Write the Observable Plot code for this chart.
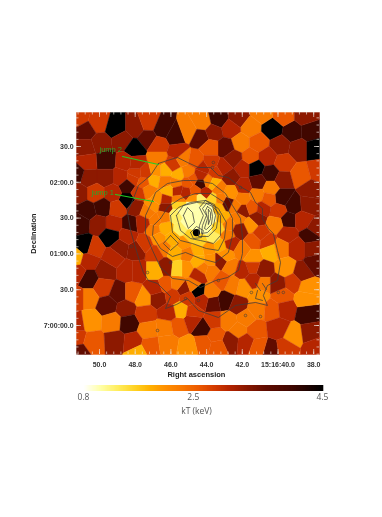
<!DOCTYPE html>
<html>
<head>
<meta charset="utf-8">
<script src="https://cdn.jsdelivr.net/npm/d3@7"></script>
<script src="https://cdn.jsdelivr.net/npm/@observablehq/plot@0.6"></script>
<style>
html,body{margin:0;padding:0;background:#fff}
svg{display:block}
#chart svg{filter:blur(0.35px)}
</style>
</head>
<body>
<div id="chart"></div>
<script>
// Temperature map cells: right ascension (s), declination (arcsec above 7:00:00), kT (keV)
const nwRA=[51.18,50.06,50.78,49.10,47.98,47.26,46.47,45.74,50.78,49.94,48.71,47.31,48.04,46.70,49.66,50.67,48.54,48.82,49.66,50.62,51.29,48.10,48.43,48.43,49.27,50.22,51.18,49.83,50.67,48.99,48.26,49.22,50.06,51.06];
const nwDec=[174,170,163,166,166,170,165,159,149,153,155,157,148,151,138,137,137,124,124,124,127,123,105,117,111,111,111,99,96,98,85,85,85,86];
const nwKT=[2.85,2.85,3.6,4.5,3.3,2.85,4,4,3.3,3.3,3.3,3.6,4.5,2.85,4,3.05,3.05,3.05,3.3,3.3,4,2.85,4.5,4,3.05,2.85,3.3,4,4,2.85,4,3.05,3.3,4];

const ncRA=[46.70,46.30,45.58,45.02,45.91,45.35,44.62,44.18,44.34,46.98,47.54,47.98,47.42,47.98,46.86,46.30,45.74,45.07,46.14,47.26,47.82,45.63,45.18,46.75,46.30,44.62,44.06,45.58,44.74,47.98,46.98,46.30,47.31,46.86,45.02,44.23,45.63,43.90,44.79,44.34,42.38,41.94];
const ncDec=[140,130,126,128,135,140,138,132,119,122,120,127,128,136,130,120,119,120,113,113,111,113,111,106,105,113,111,105,106,99,101,99,95,88,163,170,145,121,123,126,100,132];
const ncKT=[2.3,1.85,1.85,2.3,2.85,2.3,2.6,3.05,4,1.85,2.6,2.85,2.85,3.05,2.05,2.3,2.3,2.6,1.85,2.3,2.85,3.05,3.05,2.05,3.05,2.6,3.05,2.3,2.05,3.3,2.05,3.3,2.3,2.3,2.3,2.3,3.05,2.3,2.6,3.05,2.3,3.05];

const coreRA=[44.74,45.30,44.80,44.34,45.07,44.62,44.06,43.90,43.78,44.34,43.67,45.58,45.74,45.46,44.90,44.34,43.62,43.34,43.11,43.34,42.83,42.78,42.83,43.22,43.90,44.51,45.30,45.91,46.30,46.42,46.98,46.75,46.42,45.74,45.07,46.86,44.46,43.78,43.22,42.66,46.30,45.18,44.18];
const coreDec=[101,96,92,90,86,84,82,98,90,106,106,102,92,81,75,71,74,82,90,99,103,85,75,67,65,63,69,73,82,91,80,73,65,61,60,61,54,54,54,49,49,48,48];
const coreKT=[1.05,1.05,1.05,1.05,1.05,1.05,1.05,1.05,1.05,1.3,1.6,1.6,1.3,1.3,1.6,1.6,1.3,1.6,1.85,1.85,3.6,2.3,2.3,1.85,2.05,1.85,2.05,1.85,1.85,2.3,2.3,2.05,2.3,1.85,2.3,2.85,1.85,2.05,3.3,2.3,3.3,2.05,2.3];

const neRA=[44.34,43.34,42.22,41.54,42.66,43.62,40.31,39.19,38.18,39.70,38.46,40.87,42.10,42.94,41.10,39.86,38.86,37.90,43.78,41.54,40.59,42.50,39.70,38.74,41.26,40.42,43.06,43.78,39.75,37.74,41.10,42.66,43.50,40.42,41.94,42.66,43.34,43.62,41.99,41.15,39.75,39.14,40.54,39.98,43.22,41.99,41.43,40.87,41.15,41.54,39.42,40.14,42.22,42.10,40.98,39.47,38.18,38.30,38.63,37.90,38.18];
const neDec=[158,173,174,166,165,162,165,162,163,176,176,178,153,149,153,151,148,148,149,141,141,140,136,126,132,127,132,136,122,130,120,124,128,115,116,111,115,119,106,109,107,101,106,96,106,96,99,98,90,84,88,85,90,80,77,77,113,102,88,81,75];
const neKT=[3.6,4,3.3,2.3,3.05,3.3,4.5,4,4,2.6,3.3,2.3,2.3,3.6,2.6,3.3,3.3,4.5,2.6,2.6,3.05,3.3,2.85,2.6,4.5,4,3.05,2.85,3.3,2.85,3.6,3.3,2.85,2.3,3.05,2.05,2.3,1.85,2.3,2.3,4,4,2.6,2.85,2.3,3.3,2.6,3.05,3.3,2.05,4,2.3,2.3,3.3,2.85,3.05,3.3,3.3,3.05,3.3,4];

const seRA=[41.38,40.59,42.66,42.94,41.99,41.43,40.42,39.86,38.91,38.07,39.58,38.63,37.90,38.35,39.19,40.82,41.43,41.99,41.94,42.55,41.10,40.82,41.38,39.75,40.03,42.94,43.67,42.27,41.15,40.31,39.58,38.35,39.14,38.18,37.90,40.42,39.58,41.26,42.22,42.66,41.82,41.10,43.50,44.23,43.62,42.78,41.82,39.98,38.46,44.46,44.18,43.39];
const seDec=[71,70,69,59,63,57,63,65,65,65,48,44,52,32,36,46,49,46,32,34,25,35,38,25,35,21,19,17,14,13,14,10,-8,-6,-18,-21,-19,-4,-4,-13,-14,-18,-8,-2,4,4,6,-2,23,29,-15,-18];
const seKT=[2.6,2.85,3.05,2.05,2.3,2.05,1.85,2.3,3.05,3.3,2.05,3.3,3.6,2.05,2.85,3.3,2.85,3.05,2.05,2.3,2.05,2.3,3.05,2.6,3.3,4,3.6,3.3,2.3,2.6,3.05,4,2.05,3.3,3.05,3.6,2.85,2.6,2.3,3.3,3.05,2.6,2.6,4,2.85,2.3,2.3,3.05,2.05,4.5,2.6,2.6];

const swRA=[50.78,49.38,50.34,48.82,47.98,48.43,51.34,50.62,49.66,49.22,50.62,49.78,51.23,48.43,48.94,48.15,47.54,46.70,50.62,49.55,48.54,51.23,50.50,49.27,48.38,47.42,47.26,46.30,45.58,44.79,51.34,50.34,49.10,48.15,47.14,46.19,45.02,51.34,47.87,51.18,46.86,45.30,46.30,45.63,45.91,45.07,44.23,43.78,44.74,45.46,46.14,44.74,47.87,46.86,45.58,44.46,43.78,43.11,47.42,47.59];
const swDec=[67,75,65,65,63,75,57,54,46,57,39,32,44,46,27,27,23,23,23,17,14,23,4,3,2,10,-4,-2,0,4,-10,-14,-13,-14,-17,-15,-18,2,-23,-23,31,31,34,35,25,23,21,28,34,13,11,11,46,46,48,42,46,38,69,86];
const swKT=[4.5,4.5,2.85,3.3,3.3,3.05,1.85,3.05,3.3,3.05,4,2.85,3.05,3.05,3.6,2.6,2.05,3.3,2.3,3.6,3.3,2.85,2.05,2.3,4,2.85,2.3,2.3,2.6,3.05,2.85,2.6,3.3,3.05,2.6,2.3,2.05,3.05,1.85,3.6,3.05,3.3,2.6,2.3,2.85,2.85,3.05,2.3,2.3,1.85,3.05,2.85,3.05,1.85,1.6,3.05,2.3,2.6,2.85,3.05];

const sitesRA=[...nwRA,...ncRA,...coreRA,...neRA,...seRA,...swRA];
const sitesDec=[...nwDec,...ncDec,...coreDec,...neDec,...seDec,...swDec];
const sitesKT=[...nwKT,...ncKT,...coreKT,...neKT,...seKT,...swKT];

// Contours
const c1RA=[46.70,46.19,45.63,45.07,44.46,43.78,43.34,42.78,42.22,41.54,41.26,40.87,40.87,40.54,40.26,40.03,39.86,40.03,40.59,40.82,40.59,41.26,42.38,43.34,44.46,45.07,45.69,46.30,46.02,46.75,47.26,47.54,47.82,48.26,48.43,48.10,47.82,47.14,46.70];
const c1Dec=[135.8,138.3,140.8,136.6,132.4,132.4,125.7,124,117.3,111.5,103.1,98,89.7,81.3,77.1,62.9,52.8,37.7,33.5,25.1,16.8,19.3,16.8,6.7,12.6,22.6,17.6,14.2,24.3,35.2,37.7,44.4,57,79.6,94.7,106.4,117.3,125.7,135.8];
const c2RA=[47.03,47.42,47.42,47.03,46.58,45.91,45.02,44.34,43.50,42.83,42.22,41.99,41.99,42.10,42.55,42.94,43.67,44.62,45.30,46.19,46.86,47.03];
const c2Dec=[104.8,92.2,77.1,62.9,48.6,39.4,37.7,31.8,37.7,40.2,46.1,60.3,73.7,89.7,100.6,110.6,119,121.5,121.5,119,111.5,104.8];
const c3RA=[46.58,46.14,45.46,44.62,43.78,43.00,42.55,42.55,42.78,43.50,44.34,45.18,45.91,46.58,47.03,46.98,46.58];
const c3Dec=[89.7,99.7,106.4,110.6,110.6,103.1,89.7,75.4,61.2,52.8,56.1,61.2,57.8,64.5,75.4,83.8,89.7];
const c4RA=[46.02,45.58,44.90,44.06,43.34,42.89,43.00,43.34,44.01,44.79,45.46,45.91,46.02];
const c4Dec=[92.2,98.9,103.1,104.8,98,86.3,72.9,62.9,64.5,68.7,71.2,77.9,92.2];
const c5RA=[45.69,45.30,44.57,43.78,43.22,43.22,43.62,44.34,44.90,45.46,45.58,45.69];
const c5Dec=[92.2,100.6,103.1,102.2,92.2,75.4,68.7,71.2,72.9,79.6,86.3,92.2];
const c6RA=[45.30,45.07,44.79,44.68,45.02,45.30];
const c6Dec=[92.2,98.9,94.7,86.3,81.3,92.2];
const c7RA=[46.02,46.42,46.02,45.58,46.02];
const c7Dec=[75.4,68.7,62.9,68.7,75.4];
const l1RA=[44.06,43.56,43.34,43.45,43.90,44.46,44.40,44.18,44.40,44.06];
const l1Dec=[104.8,101.4,92.2,81.3,74.6,74.6,83.8,92.2,98.9,104.8];
const l2RA=[44.01,43.67,43.50,43.62,43.95,44.29,44.23,44.01,44.23,44.01];
const l2Dec=[102.2,99.7,92.2,83,77.9,77.1,83.8,92.2,98,102.2];
const l3RA=[43.95,43.73,43.67,43.73,44.01,44.12,43.95,44.06,43.95];
const l3Dec=[99.7,97.2,91.3,84.6,80.4,81.3,89.7,96.4,99.7];
const l4RA=[43.90,43.78,43.78,43.90,43.90,43.90];
const l4Dec=[97.2,94.7,89.7,84.6,93,97.2];
const ringRA=[44.90,44.57,44.18,44.29,44.74,44.90];
const ringDec=[77.9,83,79.6,73.7,72.9,77.9];
const f1RA=[41.26,40.98];
const f1Dec=[35.2,29.3];
const f2RA=[40.87,40.65];
const f2Dec=[35.2,30.2];
const f3RA=[41.15,41.26,40.87];
const f3Dec=[29.3,22.6,21];
const contourRA=[c1RA,c2RA,c3RA,c4RA,c5RA,c6RA,c7RA,l1RA,l2RA,l3RA,l4RA,ringRA,f1RA,f2RA,f3RA];
const contourDec=[c1Dec,c2Dec,c3Dec,c4Dec,c5Dec,c6Dec,c7Dec,l1Dec,l2Dec,l3Dec,l4Dec,ringDec,f1Dec,f2Dec,f3Dec];
const contourRows=contourRA.flatMap((a,k)=>a.map((ra,i)=>({k,ra,dec:contourDec[k][i]})));

const loopRA=[46.75,48.21,43.62,43.67,42.10,41.49,39.98,39.70,41.82,40.98,43.34,47.31,46.02,45.18,44.46];
const loopDec=[-4.2,66.2,136.6,132.4,115.6,27.7,27.7,27.7,8.4,7.5,37.7,44.4,52.8,22.6,21];

// Core point source
const coreSourceRA=[44.57];
const coreSourceDec=[77.9];
const coreSourceKT=[4.5];

// Annotations
const jumpNames=["jump 2","jump 1"];
const jumpLabelRA=[50.0,50.45];
const jumpLabelDec=[147.5,111.5];
const jumpLine2RA=[48.71,46.70];
const jumpLine2Dec=[141.6,134.9];
const jumpLine1RA=[49.10,46.98];
const jumpLine1Dec=[109.8,103.9];

// Axes
const raTicks=[50,48,46,44,42,40,38];
const raLabels=["50.0","48.0","46.0","44.0","42.0","15:16:40.0","38.0"];
const decTicks=[150,120,90,60,30,0];
const decLabels=["30.0","02:00.0","30.0","01:00.0","30.0","7:00:00.0"];
const raMinor=d3.range(38,51.2,0.4);
const decMinor=d3.range(-24,178,6);

// Colour
const colorFractions=[0,0.07,0.14,0.22,0.28,0.34,0.41,0.48,0.55,0.61,0.68,0.76,0.87,1];
const colorStops=["#ffffff","#ffffa8","#ffee60","#ffd020","#ffb000","#ff9000","#f87800","#ec5a00","#d23a00","#b42400","#8a1800","#600c00","#400700","#000000"];
const ramp=d3.scaleLinear().domain(colorFractions).range(colorStops).interpolate(d3.interpolateRgb);
const color={type:"linear",domain:[0.8,4.5],interpolate:t=>ramp(t)};

const xDom=[51.288,37.675], yDom=[-24.3,178.5];
const tickColor="#e8e0d8";
const axisFont="Liberation Sans";

function edgeTicksX(vals,len){return [
  Plot.ruleX(vals,{x:d=>d,y1:yDom[1],y2:yDom[1]-len*0.838,stroke:tickColor,strokeWidth:0.7}),
  Plot.ruleX(vals,{x:d=>d,y1:yDom[0],y2:yDom[0]+len*0.838,stroke:tickColor,strokeWidth:0.7})
];}
function edgeTicksY(vals,len){return [
  Plot.ruleY(vals,{y:d=>d,x1:xDom[0],x2:xDom[0]-len*0.056,stroke:tickColor,strokeWidth:0.7}),
  Plot.ruleY(vals,{y:d=>d,x1:xDom[1],x2:xDom[1]+len*0.056,stroke:tickColor,strokeWidth:0.7})
];}

const chart=Plot.plot({
  width:382,height:380,
  marginLeft:76,marginRight:63,marginTop:112,marginBottom:26,
  style:{background:"transparent",fontFamily:axisFont,overflow:"visible"},
  x:{domain:xDom,axis:null},y:{domain:yDom,axis:null},color,
  marks:[
    Plot.voronoi(sitesKT,{x:sitesRA,y:sitesDec,fill:sitesKT,stroke:sitesKT,strokeWidth:0.4}),
    Plot.dot(coreSourceKT,{x:coreSourceRA,y:coreSourceDec,r:3.6,fill:coreSourceKT}),
    Plot.line(contourRows,{x:"ra",y:"dec",z:"k",stroke:"#3c3c3c",strokeWidth:0.75,curve:"linear"}),
    Plot.dot(loopRA,{x:loopRA,y:loopDec,r:1.3,stroke:"#3c3c3c",strokeWidth:0.6,fill:"none"}),
    Plot.line(jumpLine2RA,{x:jumpLine2RA,y:jumpLine2Dec,stroke:"#22cc22",strokeWidth:1.2}),
    Plot.line(jumpLine1RA,{x:jumpLine1RA,y:jumpLine1Dec,stroke:"#22cc22",strokeWidth:1.2}),
    Plot.text(jumpNames,{x:jumpLabelRA,y:jumpLabelDec,text:d=>d,textAnchor:"start",fill:"#2aa52a",fontSize:7.5,fontFamily:axisFont}),
    ...edgeTicksX(raMinor,2.5),...edgeTicksX(raTicks,5),
    ...edgeTicksY(decMinor,2.5),...edgeTicksY(decTicks,5),
    Plot.text(raTicks,{x:d=>d,y:-32.5,text:(d,i)=>raLabels[i],fontSize:7,fontWeight:"bold",fill:"#333"}),
    Plot.text(decTicks,{x:51.45,y:d=>d,text:(d,i)=>decLabels[i],textAnchor:"end",fontSize:7,fontWeight:"bold",fill:"#333"}),
    Plot.text(["Right ascension"],{x:44.57,y:-41,text:d=>d,fontSize:7.5,fontWeight:"bold",fill:"#222"}),
    Plot.text(["Declination"],{x:53.7,y:77,text:d=>d,rotate:-90,fontSize:7.5,fontWeight:"bold",fill:"#222"})
  ]
});
document.getElementById("chart").appendChild(chart);

const rampKT=d3.range(0.8,4.5,0.02);
const colorTicks=[0.8,2.5,4.5];
const colorAnchors=["start","middle","end"];
const colorbar=Plot.plot({
  width:382,height:137,
  marginLeft:83,marginRight:60,marginTop:5,marginBottom:126,
  style:{background:"transparent",overflow:"visible"},
  x:{domain:[0.8,4.5],axis:null},y:{domain:[0,1],axis:null},color,
  marks:[
    Plot.rect(rampKT,{x1:d=>d,x2:d=>d+0.04,y1:0,y2:1,fill:d=>d}),
    Plot.text(colorTicks,{x:d=>d,y:-1,text:d=>d.toFixed(1),textAnchor:(d,i)=>colorAnchors[i],fontSize:8.5,fill:"#555",fontFamily:"Open Sans"}),
    Plot.text(["kT (keV)"],{x:2.55,y:-3.33,text:d=>d,fontSize:8.5,fill:"#555",fontFamily:"Open Sans"})
  ]
});
document.getElementById("chart").appendChild(colorbar);
</script>
</body>
</html>
